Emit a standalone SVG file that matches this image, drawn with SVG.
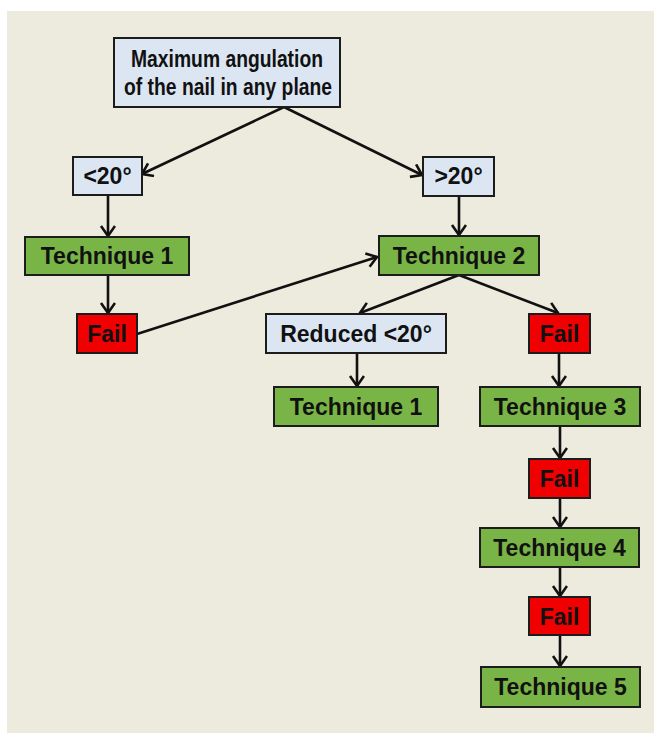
<svg xmlns="http://www.w3.org/2000/svg" width="654" height="733" viewBox="0 0 654 733">
<defs>
<style>
.bg{fill:#ecebdd}
.box{stroke:#1c1c1c;stroke-width:2}
.blue{fill:#dce6f2}
.green{fill:#79b546}
.red{fill:#f00000}
text{font-family:"Liberation Sans",Arial,sans-serif;font-weight:bold;font-size:23px;fill:#111;text-anchor:middle}
.top{font-size:23px}
.c line{stroke:#111;stroke-width:2.6;fill:none}
</style>
<marker id="ah" markerUnits="userSpaceOnUse" markerWidth="20" markerHeight="20" refX="11" refY="8" orient="auto">
<polyline points="1,1 11,8 1,15" fill="none" stroke="#111" stroke-width="2.6"/>
</marker>
</defs>
<rect class="bg" x="7" y="11" width="647" height="722"/>
<g class="c" id="connectors">
<line x1="284" y1="107" x2="142" y2="174" marker-end="url(#ah)"/>
<line x1="284" y1="107" x2="422" y2="175" marker-end="url(#ah)"/>
<line x1="108" y1="195" x2="108" y2="236" marker-end="url(#ah)"/>
<line x1="108" y1="275" x2="108" y2="313" marker-end="url(#ah)"/>
<line x1="137" y1="334" x2="377" y2="257" marker-end="url(#ah)"/>
<line x1="459" y1="196" x2="459" y2="235" marker-end="url(#ah)"/>
<line x1="459" y1="275" x2="360" y2="313" marker-end="url(#ah)"/>
<line x1="459" y1="275" x2="558" y2="313" marker-end="url(#ah)"/>
<line x1="357" y1="353" x2="357" y2="386" marker-end="url(#ah)"/>
<line x1="559" y1="353" x2="559" y2="386" marker-end="url(#ah)"/>
<line x1="560" y1="426" x2="560" y2="458" marker-end="url(#ah)"/>
<line x1="560" y1="498" x2="560" y2="527" marker-end="url(#ah)"/>
<line x1="560" y1="567" x2="560" y2="596" marker-end="url(#ah)"/>
<line x1="560" y1="635" x2="560" y2="666" marker-end="url(#ah)"/>
</g>
<g id="n-top"><rect class="box blue" x="114" y="38" width="226" height="69"/><text class="top" x="227" y="67" textLength="192" lengthAdjust="spacingAndGlyphs">Maximum angulation</text><text class="top" x="228" y="95" textLength="208" lengthAdjust="spacingAndGlyphs">of the nail in any plane</text></g>
<g id="n-lt20"><rect class="box blue" x="73" y="157" width="69" height="38"/><text x="107.5" y="184">&lt;20°</text></g>
<g id="n-gt20"><rect class="box blue" x="423" y="157" width="71" height="39"/><text x="458.5" y="184">&gt;20°</text></g>
<g id="n-tech1a"><rect class="box green" x="25" y="237" width="164" height="38"/><text x="107" y="264">Technique 1</text></g>
<g id="n-fail1"><rect class="box red" x="77" y="314" width="60" height="39"/><text x="107" y="342">Fail</text></g>
<g id="n-tech2"><rect class="box green" x="379" y="236" width="160" height="39"/><text x="459" y="264">Technique 2</text></g>
<g id="n-reduced"><rect class="box blue" x="266" y="314" width="180" height="39"/><text x="356" y="342">Reduced &lt;20°</text></g>
<g id="n-fail2"><rect class="box red" x="529" y="314" width="61" height="39"/><text x="559.5" y="342">Fail</text></g>
<g id="n-tech1b"><rect class="box green" x="274" y="387" width="164" height="39"/><text x="356" y="415">Technique 1</text></g>
<g id="n-tech3"><rect class="box green" x="480" y="387" width="160" height="39"/><text x="560" y="415">Technique 3</text></g>
<g id="n-fail3"><rect class="box red" x="529" y="459" width="61" height="39"/><text x="559.5" y="487">Fail</text></g>
<g id="n-tech4"><rect class="box green" x="480" y="528" width="159" height="39"/><text x="559.5" y="556">Technique 4</text></g>
<g id="n-fail4"><rect class="box red" x="529" y="597" width="61" height="38"/><text x="559.5" y="625">Fail</text></g>
<g id="n-tech5"><rect class="box green" x="481" y="667" width="159" height="40"/><text x="560.5" y="695">Technique 5</text></g>
</svg>
